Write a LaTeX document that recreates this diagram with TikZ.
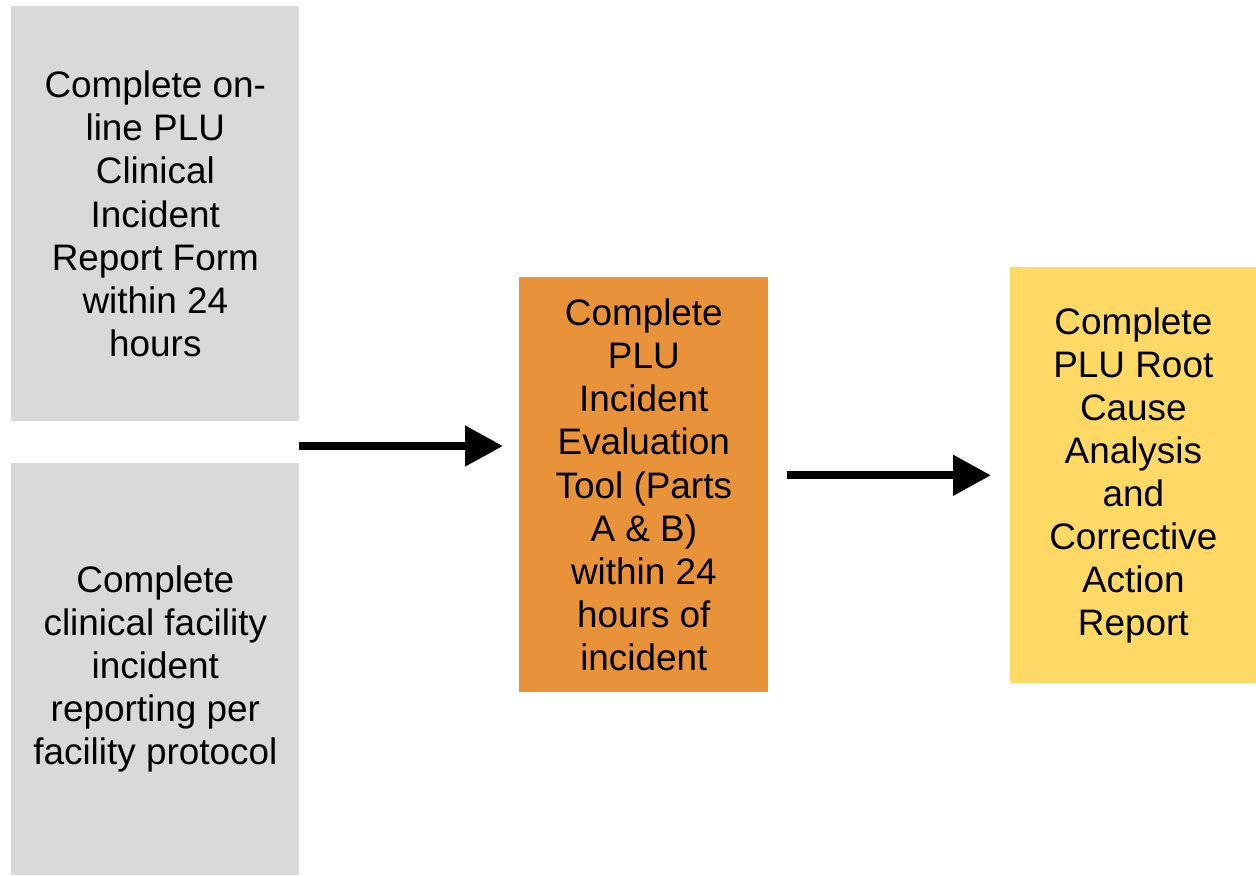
\documentclass[tikz,border=0pt]{standalone}
\usepackage{fontspec}
\setmainfont{Liberation Sans}
\usetikzlibrary{arrows.meta,positioning,calc}
\definecolor{plugray}{RGB}{217,217,217}
\definecolor{pluorange}{RGB}{232,146,58}
\definecolor{pluyellow}{RGB}{255,217,102}

\tikzset{
    stepbox/.style={rectangle, anchor=north west, inner sep=0pt, align=center,
        font=\fontsize{21}{24.5}\selectfont},
    flowarrow/.style={line width=4.5pt, -{Triangle[length=0.76cm, width=0.78cm]}}
}

\begin{document}
\begin{tikzpicture}[x=0.02cm, y=-0.02cm]
    \useasboundingbox (0,0) rectangle (1256,875);
    % Reporting steps
    \node[stepbox, fill=plugray, minimum width=5.76cm, minimum height=8.3cm] (report) at (11,6)
        {Complete on-\\line PLU\\Clinical\\Incident\\Report Form\\within 24\\hours};
    \node[stepbox, fill=plugray, minimum width=5.76cm, minimum height=8.24cm] (facility) at (11,463)
        {Complete\\clinical facility\\incident\\reporting per\\facility protocol};
    % Evaluation
    \node[stepbox, fill=pluorange, minimum width=4.98cm, minimum height=8.3cm] (evaluation) at (519,277)
        {Complete\\PLU\\Incident\\Evaluation\\Tool (Parts\\A \& B)\\within 24\\hours of\\incident};
    % Root cause analysis
    \node[stepbox, fill=pluyellow, minimum width=4.92cm, minimum height=8.32cm] (rca) at (1010,267)
        {Complete\\PLU Root\\Cause\\Analysis\\and\\Corrective\\Action\\Report};
    % Arrows
    \coordinate (join) at (299,446);
    \draw[flowarrow, shorten >=0.32cm] (join) -- (join -| evaluation.west);
    \draw[flowarrow, shorten <=0.36cm, shorten >=0.38cm] (evaluation.east |- rca.west) -- (rca.west);
\end{tikzpicture}
\end{document}
